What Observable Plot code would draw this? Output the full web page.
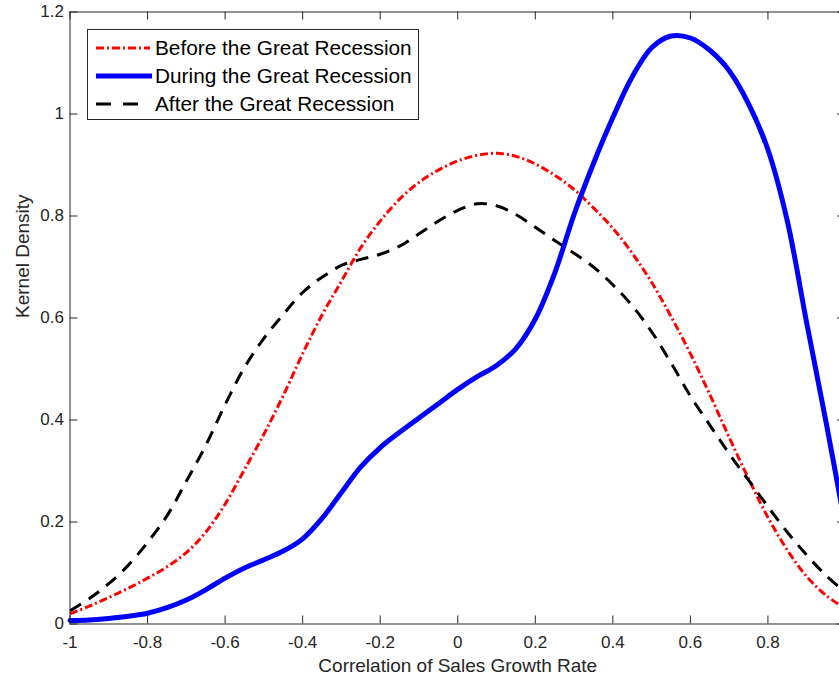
<!DOCTYPE html>
<html>
<head>
<meta charset="utf-8">
<script src="https://cdn.jsdelivr.net/npm/d3@7"></script>
<script src="https://cdn.jsdelivr.net/npm/@observablehq/plot@0.6"></script>
<style>
  html, body { margin: 0; padding: 0; background: #fff; overflow: hidden; }
  #wrap { position: relative; width: 839px; height: 681px; overflow: hidden; }
  #wrap svg.plotsvg { overflow: hidden; }
  #legend { position: absolute; left: 87px; top: 29px; }
</style>
</head>
<body>
<div id="wrap"></div>
<script>
const xTicks = [-1, -0.8, -0.6, -0.4, -0.2, 0, 0.2, 0.4, 0.6, 0.8, 1];
const xTickLabels = [-1, -0.8, -0.6, -0.4, -0.2, 0, 0.2, 0.4, 0.6, 0.8];
const yTicks = [0, 0.2, 0.4, 0.6, 0.8, 1, 1.2];

const grid = [-1, -0.95, -0.9, -0.85, -0.8, -0.75, -0.7, -0.65, -0.6, -0.55, -0.5,
  -0.45, -0.4, -0.35, -0.3, -0.25, -0.2, -0.15, -0.1, -0.05, 0,
  0.05, 0.1, 0.15, 0.2, 0.25, 0.3, 0.35, 0.4, 0.45, 0.5,
  0.55, 0.6, 0.65, 0.7, 0.75, 0.8, 0.85, 0.9, 0.95, 1];

const before = [0.02, 0.035, 0.052, 0.07, 0.09, 0.112, 0.14, 0.18, 0.235, 0.303, 0.372,
  0.448, 0.53, 0.606, 0.672, 0.738, 0.79, 0.833, 0.866, 0.89, 0.908,
  0.919, 0.923, 0.917, 0.902, 0.88, 0.852, 0.816, 0.776, 0.727, 0.67,
  0.603, 0.53, 0.45, 0.366, 0.285, 0.209, 0.145, 0.093, 0.056, 0.03];

const during = [0.007, 0.008, 0.011, 0.015, 0.021, 0.032, 0.047, 0.067, 0.09, 0.11, 0.126,
  0.143, 0.167, 0.207, 0.258, 0.308, 0.346, 0.376, 0.404, 0.432, 0.46,
  0.485, 0.507, 0.54, 0.598, 0.688, 0.803, 0.903, 0.993, 1.073, 1.13,
  1.153, 1.149, 1.125, 1.085, 1.02, 0.93, 0.79, 0.59, 0.395, 0.19];

const after = [0.026, 0.05, 0.079, 0.115, 0.16, 0.212, 0.28, 0.35, 0.43, 0.503, 0.56,
  0.607, 0.65, 0.68, 0.703, 0.715, 0.725, 0.741, 0.765, 0.79, 0.811,
  0.824, 0.82, 0.803, 0.778, 0.752, 0.727, 0.70, 0.665, 0.624, 0.573,
  0.512, 0.447, 0.39, 0.334, 0.282, 0.23, 0.18, 0.135, 0.095, 0.062];

const seriesNames = ["Before the Great Recession", "During the Great Recession", "After the Great Recession"];
const seriesColors = ["#ff0000", "#0000ff", "#000000"];

const toRows = (vals) => grid.map((x, i) => ({x, y: vals[i]}));

const W = 839, H = 681;
const mL = 69.5, mR = -6, mT = 11.5, mB = 57.5;
const innerW = W - mL - mR, innerH = H - mT - mB;
const tickLen = 8;
const ink = "#262626";
const font = "'Liberation Sans', Arial, Helvetica, sans-serif";

const plot = Plot.plot({
  width: W,
  height: H,
  marginLeft: mL,
  marginRight: mR,
  marginTop: mT,
  marginBottom: mB,
  style: {fontFamily: font, background: "white", overflow: "hidden"},
  x: {domain: [-1, 1]},
  y: {domain: [0, 1.2]},
  marks: [
    Plot.line(toRows(before), {x: "x", y: "y", stroke: seriesColors[0], strokeWidth: 3,
      strokeDasharray: "8,3,2,3", strokeLinecap: "butt", curve: "catmull-rom"}),
    Plot.line(toRows(after), {x: "x", y: "y", stroke: seriesColors[2], strokeWidth: 3,
      strokeDasharray: "13,9", strokeLinecap: "butt", curve: "catmull-rom"}),
    Plot.line(toRows(during), {x: "x", y: "y", stroke: seriesColors[1], strokeWidth: 5,
      curve: "catmull-rom"}),
    Plot.frame({stroke: ink, strokeWidth: 1}),
    Plot.ruleX(xTicks, {x: d => d, insetTop: innerH - tickLen, stroke: ink}),
    Plot.ruleX(xTicks, {x: d => d, insetBottom: innerH - tickLen, stroke: ink}),
    Plot.ruleY(yTicks, {y: d => d, insetRight: innerW - tickLen, stroke: ink}),
    Plot.ruleY(yTicks, {y: d => d, insetLeft: innerW - tickLen, stroke: ink}),
    Plot.axisX({ticks: xTickLabels, tickSize: 0, tickPadding: 12, fontSize: 17, color: ink,
      tickFormat: d => String(d), label: null}),
    Plot.axisY({ticks: yTicks, tickSize: 0, tickPadding: 6, fontSize: 17, color: ink,
      tickFormat: d => String(d), label: null}),
    Plot.text(["Correlation of Sales Growth Rate"], {frameAnchor: "bottom", dy: 48,
      fontSize: 19, fill: ink}),
    Plot.text(["Kernel Density"], {frameAnchor: "left", dx: -47, rotate: -90,
      fontSize: 19, fill: ink})
  ]
});
plot.classList.add("plotsvg");
document.getElementById("wrap").appendChild(plot);

// Legend
const ns = "http://www.w3.org/2000/svg";
const lg = document.createElementNS(ns, "svg");
lg.setAttribute("id", "legend");
lg.setAttribute("width", 332);
lg.setAttribute("height", 91);
lg.style.fontFamily = font;
const box = document.createElementNS(ns, "rect");
box.setAttribute("x", 0.5); box.setAttribute("y", 0.5);
box.setAttribute("width", 331); box.setAttribute("height", 90);
box.setAttribute("fill", "white"); box.setAttribute("stroke", ink);
lg.appendChild(box);
const rowsY = [19, 47, 75];
const dashes = ["8,3,2,3", null, "15,12"];
const widths = [3, 5, 3];
const lineEnd = [63, 65, 63];
seriesNames.forEach((name, i) => {
  const ln = document.createElementNS(ns, "line");
  ln.setAttribute("x1", 9); ln.setAttribute("x2", lineEnd[i]);
  ln.setAttribute("y1", rowsY[i]); ln.setAttribute("y2", rowsY[i]);
  ln.setAttribute("stroke", seriesColors[i]);
  ln.setAttribute("stroke-width", widths[i]);
  if (dashes[i]) ln.setAttribute("stroke-dasharray", dashes[i]);
  lg.appendChild(ln);
  const t = document.createElementNS(ns, "text");
  t.setAttribute("x", 68); t.setAttribute("y", rowsY[i]);
  t.setAttribute("dy", "0.35em");
  t.setAttribute("font-size", 20.8);
  t.setAttribute("fill", "#000");
  t.textContent = name;
  lg.appendChild(t);
});
document.getElementById("wrap").appendChild(lg);
</script>
</body>
</html>
